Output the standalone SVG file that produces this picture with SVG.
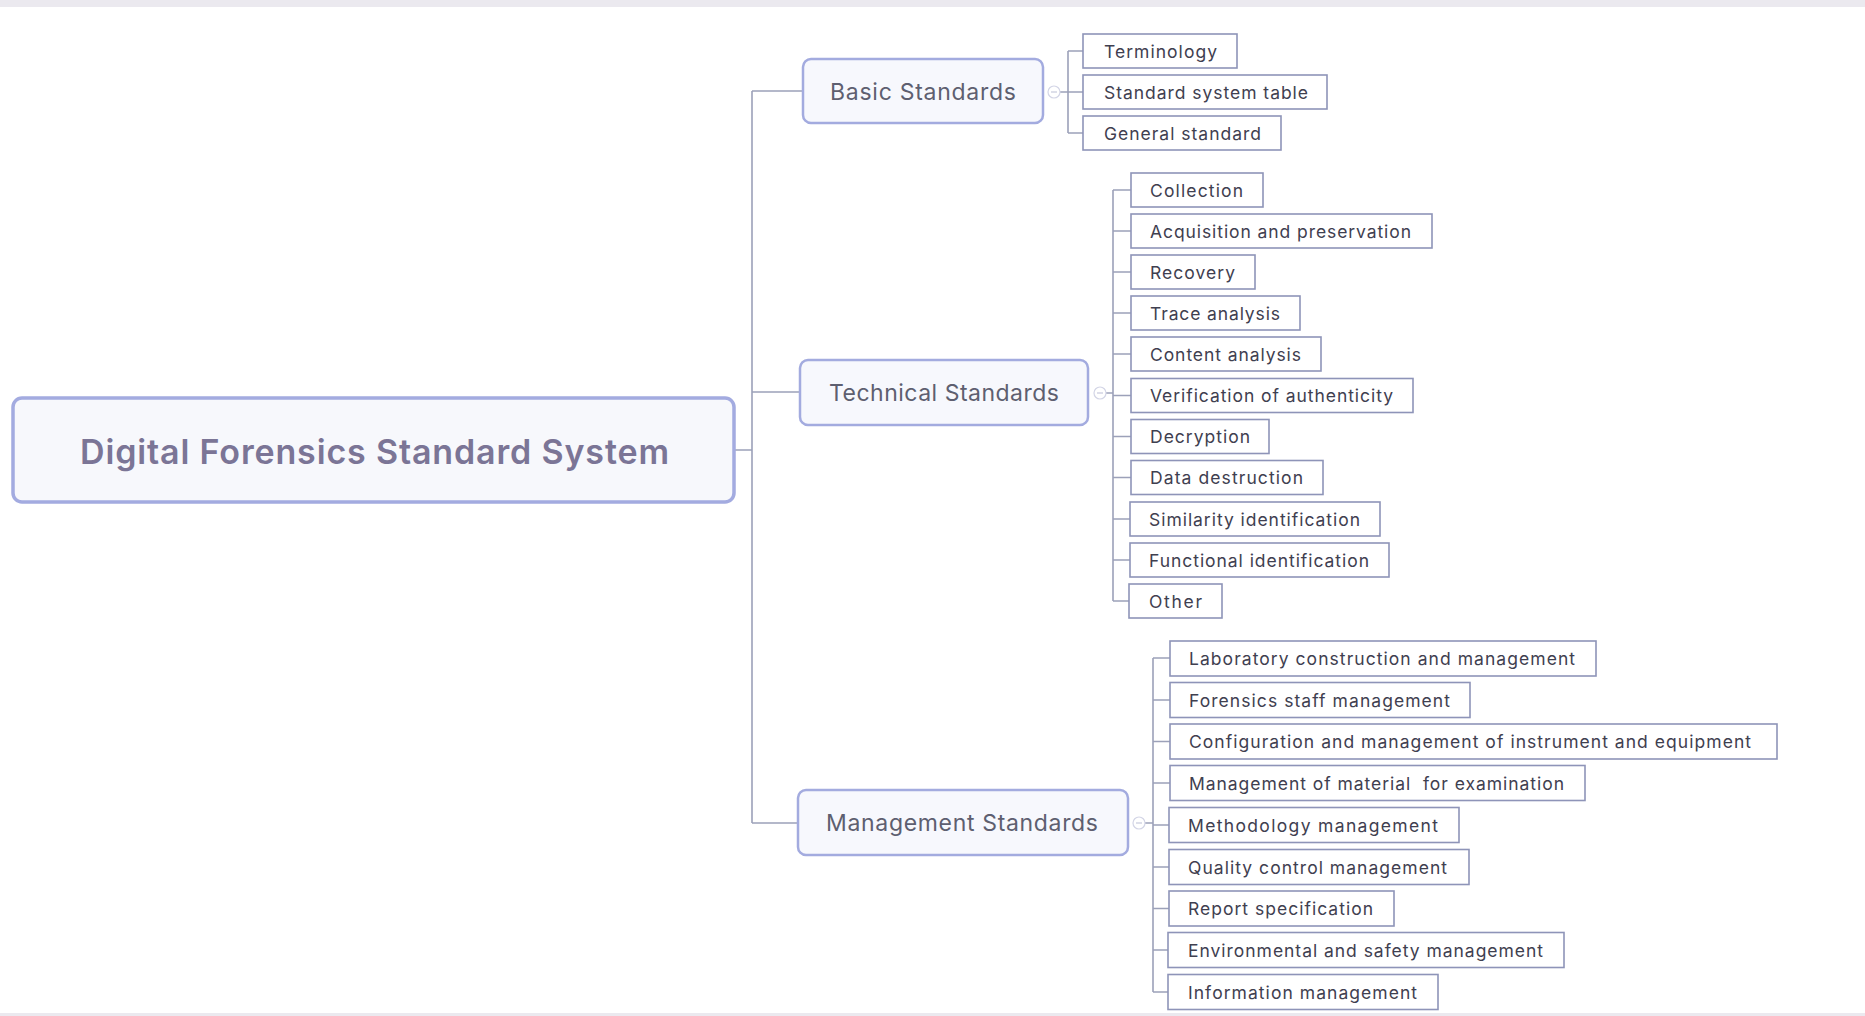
<svg xmlns="http://www.w3.org/2000/svg" width="1865" height="1016" viewBox="0 0 1865 1016">
<style>
.bg{fill:#ffffff}
.band{fill:#ebe9ef}
.root rect{fill:#f7f8fc;stroke:#a3abe0;stroke-width:3.5}
.root text{font-family:Inter,"Liberation Sans",sans-serif;font-weight:600;font-size:34px;fill:#7b7596}
.l1 rect{fill:#f7f8fd;stroke:#a3abdf;stroke-width:2.5}
.l1 text{font-family:Inter,"Liberation Sans",sans-serif;font-size:23px;fill:#5e5f70}
.leaf rect{fill:#ffffff;stroke:#8e94b8;stroke-width:1.6}
.leaf text{font-family:Inter,"Liberation Sans",sans-serif;font-size:17.5px;fill:#3f4050}
.conn path{fill:none;stroke:#9ca1b9;stroke-width:1.6}
.tog circle{fill:#ffffff;stroke:#d3d5e6;stroke-width:1.2}
.tog path{stroke:#c6c9dc;stroke-width:1.2}
</style>
<rect class="bg" x="0" y="0" width="1865" height="1016"/>
<rect class="band" x="0" y="0" width="1865" height="7"/>
<rect class="band" x="0" y="1013" width="1865" height="3"/>

<g class="conn" id="connectors">
  <path d="M734 450 H752 M752 91 V823 M752 91 H803 M752 392 H800 M752 823 H798"/>
  <path d="M1060 92 H1083 M1068 51 V133 M1068 51 H1083 M1068 133 H1083"/>
  <path d="M1106 393 H1113 M1113 190 V601 M1113 190 H1131 M1113 231 H1131 M1113 272 H1131 M1113 313 H1131 M1113 354 H1131 M1113 395.5 H1131 M1113 436.5 H1131 M1113 477.5 H1131 M1113 519 H1131 M1113 560 H1131 M1113 601 H1131"/>
  <path d="M1145 823 H1153 M1153 658 V992 M1153 658 H1170 M1153 700 H1170 M1153 741.5 H1170 M1153 783 H1170 M1153 825 H1170 M1153 867 H1170 M1153 908.5 H1170 M1153 950 H1170 M1153 992 H1170"/>
</g>

<g class="tog" id="toggles">
  <circle cx="1054" cy="92" r="6"/><path d="M1051 92 H1057"/>
  <circle cx="1100" cy="393" r="6"/><path d="M1097 393 H1103"/>
  <circle cx="1139" cy="823" r="6"/><path d="M1136 823 H1142"/>
</g>

<g class="root" id="node-root">
  <rect x="13" y="398" width="721" height="104" rx="9"/>
  <text x="80" y="451" dominant-baseline="central" textLength="589">Digital Forensics Standard System</text>
</g>

<g class="l1" id="node-basic">
  <rect x="803" y="59" width="240" height="64" rx="8"/>
  <text x="830" y="92" dominant-baseline="central" textLength="186">Basic Standards</text>
</g>
<g class="l1" id="node-technical">
  <rect x="800" y="360" width="288" height="65" rx="8"/>
  <text x="829" y="393" dominant-baseline="central" textLength="230">Technical Standards</text>
</g>
<g class="l1" id="node-management">
  <rect x="798" y="790" width="330" height="65" rx="8"/>
  <text x="826" y="823" dominant-baseline="central" textLength="272">Management Standards</text>
</g>

<g class="leaf" id="node-terminology"><rect x="1083" y="34" width="154" height="34"/><text x="1104" y="51" dominant-baseline="central" textLength="113">Terminology</text></g>
<g class="leaf" id="node-standard-system-table"><rect x="1083" y="75" width="244" height="34"/><text x="1104" y="92" dominant-baseline="central" textLength="204">Standard system table</text></g>
<g class="leaf" id="node-general-standard"><rect x="1083" y="116" width="198" height="34"/><text x="1104" y="133" dominant-baseline="central" textLength="157">General standard</text></g>

<g class="leaf" id="node-collection"><rect x="1131" y="173" width="132" height="34"/><text x="1150" y="190" dominant-baseline="central" textLength="93">Collection</text></g>
<g class="leaf" id="node-acquisition"><rect x="1131" y="214" width="301" height="34"/><text x="1150" y="231" dominant-baseline="central" textLength="261">Acquisition and preservation</text></g>
<g class="leaf" id="node-recovery"><rect x="1131" y="255" width="124" height="34"/><text x="1150" y="272" dominant-baseline="central" textLength="85">Recovery</text></g>
<g class="leaf" id="node-trace"><rect x="1131" y="296" width="169" height="34"/><text x="1150" y="313" dominant-baseline="central" textLength="130">Trace analysis</text></g>
<g class="leaf" id="node-content"><rect x="1131" y="337" width="190" height="34"/><text x="1150" y="354" dominant-baseline="central" textLength="151">Content analysis</text></g>
<g class="leaf" id="node-verification"><rect x="1131" y="378.5" width="282" height="34"/><text x="1150" y="395.5" dominant-baseline="central" textLength="243">Verification of authenticity</text></g>
<g class="leaf" id="node-decryption"><rect x="1131" y="419.5" width="138" height="34"/><text x="1150" y="436.5" dominant-baseline="central" textLength="100">Decryption</text></g>
<g class="leaf" id="node-data-destruction"><rect x="1131" y="460.5" width="192" height="34"/><text x="1150" y="477.5" dominant-baseline="central" textLength="153">Data destruction</text></g>
<g class="leaf" id="node-similarity"><rect x="1130" y="502" width="250" height="34"/><text x="1149" y="519" dominant-baseline="central" textLength="211">Similarity identification</text></g>
<g class="leaf" id="node-functional"><rect x="1130" y="543" width="259" height="34"/><text x="1149" y="560" dominant-baseline="central" textLength="220">Functional identification</text></g>
<g class="leaf" id="node-other"><rect x="1129" y="584" width="93" height="34"/><text x="1149" y="601" dominant-baseline="central" textLength="53">Other</text></g>

<g class="leaf" id="node-laboratory"><rect x="1170" y="641" width="426" height="35"/><text x="1189" y="658.5" dominant-baseline="central" textLength="386">Laboratory construction and management</text></g>
<g class="leaf" id="node-forensics-staff"><rect x="1170" y="682.5" width="300" height="35"/><text x="1189" y="700" dominant-baseline="central" textLength="261">Forensics staff management</text></g>
<g class="leaf" id="node-configuration"><rect x="1170" y="724" width="607" height="35"/><text x="1189" y="741.5" dominant-baseline="central" textLength="562">Configuration and management of instrument and equipment</text></g>
<g class="leaf" id="node-material"><rect x="1170" y="765.5" width="415" height="35"/><text x="1189" y="783" dominant-baseline="central" textLength="375" xml:space="preserve">Management of material  for examination</text></g>
<g class="leaf" id="node-methodology"><rect x="1169" y="807.5" width="290" height="35"/><text x="1188" y="825" dominant-baseline="central" textLength="250">Methodology management</text></g>
<g class="leaf" id="node-quality"><rect x="1169" y="849.5" width="300" height="35"/><text x="1188" y="867" dominant-baseline="central" textLength="259">Quality control management</text></g>
<g class="leaf" id="node-report"><rect x="1169" y="891" width="225" height="35"/><text x="1188" y="908.5" dominant-baseline="central" textLength="185">Report specification</text></g>
<g class="leaf" id="node-environmental"><rect x="1168" y="932.5" width="396" height="35"/><text x="1188" y="950" dominant-baseline="central" textLength="355">Environmental and safety management</text></g>
<g class="leaf" id="node-information"><rect x="1168" y="974.5" width="270" height="35"/><text x="1188" y="992" dominant-baseline="central" textLength="229">Information management</text></g>
</svg>
